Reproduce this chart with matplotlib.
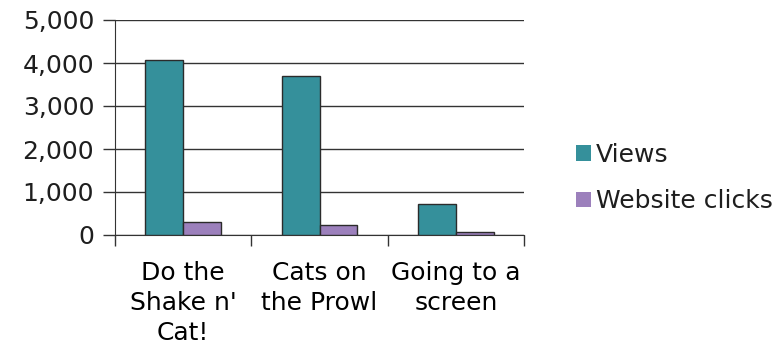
import numpy as np
import matplotlib
matplotlib.use('Agg')
import matplotlib.pyplot as plt
from matplotlib.patches import Patch

categories = ["Do the\nShake n'\nCat!", "Cats on\nthe Prowl", "Going to a\nscreen"]
views = [4070, 3700, 730]
clicks = [300, 240, 60]

plt.rcParams['font.family'] = 'DejaVu Sans'
plt.rcParams['font.size'] = 18
plt.rcParams['text.color'] = '#1e1e1e'

teal = '#35909B'
purple = '#9C80BC'

fig = plt.figure(figsize=(7.77, 3.47), dpi=100)
ax = fig.add_axes([115 / 777, 1 - 235 / 347, 409 / 777, 215 / 347])

x = np.arange(len(categories))
w = 0.278
ax.bar(x - w / 2, views, w, color=teal, edgecolor='#2b2b2b', lw=1, zorder=3)
ax.bar(x + w / 2, clicks, w, color=purple, edgecolor='#2b2b2b', lw=1, zorder=3)

ax.set_xlim(-0.5, 2.5)
ax.set_ylim(0, 5000)
ax.set_yticks(range(0, 5001, 1000))
ax.set_yticklabels(['{:,}'.format(v) for v in range(0, 5001, 1000)])
ax.yaxis.grid(True, color='#333333', lw=1)
ax.set_axisbelow(True)

# category boundaries as ticks, labels in between
ax.set_xticks([-0.5, 0.5, 1.5, 2.5])
ax.set_xticklabels([])
ax.set_xticks(x, minor=True)
ax.set_xticklabels(categories, minor=True, linespacing=1.3)
ax.tick_params(axis='x', which='minor', length=0, pad=19)
ax.tick_params(axis='x', which='major', length=8, width=1, color='#333333')
ax.tick_params(axis='y', length=9, width=1, color='#333333', pad=6)
ax.tick_params(axis='both', labelcolor='#1e1e1e')

for s in ['top', 'right']:
    ax.spines[s].set_visible(False)
ax.spines['left'].set_color('#333333')
ax.spines['bottom'].set_color('#333333')

handles = [Patch(facecolor=teal, edgecolor='none', label='Views'),
           Patch(facecolor=purple, edgecolor='none', label='Website clicks')]
fig.legend(handles=handles, loc='center left', bbox_to_anchor=(553 / 777, 1 - 178 / 347),
           frameon=False, handlelength=0.6, handleheight=0.6, handletextpad=0.2,
           labelspacing=0.9)

fig.savefig('out.png', dpi=100)
